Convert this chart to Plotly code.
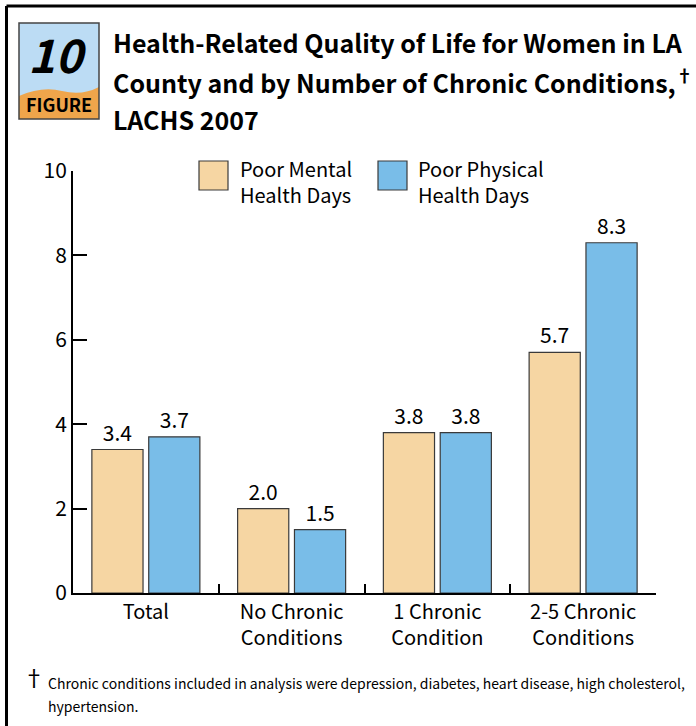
import plotly.graph_objects as go

# data
categories = ["Total", "No Chronic<br>Conditions", "1 Chronic<br>Condition", "2-5 Chronic<br>Conditions"]
series_names = ["Poor Mental<br>Health Days", "Poor Physical<br>Health Days"]
mental_days = [3.4, 2.0, 3.8, 5.7]
physical_days = [3.7, 1.5, 3.8, 8.3]
y_ticks = [0, 2, 4, 6, 8, 10]

title_lines = [
    "Health-Related Quality of Life for Women in LA",
    "County and by Number of Chronic Conditions,<sup>†</sup>",
    "LACHS 2007",
]
footnote_lines = [
    "Chronic conditions included in analysis were depression, diabetes, heart disease, high cholesterol,",
    "hypertension.",
]

W, H = 696, 726
FONT = "Noto Sans CJK JP, Roboto, sans-serif"
colors = ["#F6D6A3", "#79BDE8"]


def px(x):
    return x / W


def py(y):
    return 1 - y / H


def note(text, x, y, size, xanchor="left", yanchor="middle", **kw):
    return dict(text=text, x=px(x), y=py(y), xref="paper", yref="paper",
                xanchor=xanchor, yanchor=yanchor, align="left", showarrow=False,
                font=dict(size=size, family=FONT, color="black"), **kw)


fig = go.Figure()
for name, vals, col in zip(series_names, [mental_days, physical_days], colors):
    fig.add_trace(
        go.Bar(
            x=categories,
            y=vals,
            name=name,
            marker=dict(color=col, line=dict(color="#3a3a3a", width=1.2)),
            text=[f"{v:.1f}" for v in vals],
            textposition="outside",
            textfont=dict(size=21, color="black", family=FONT),
            cliponaxis=False,
            showlegend=False,
            hoverinfo="skip",
        )
    )

shapes = [
    # outer frame (top and left)
    dict(type="line", xref="paper", yref="paper", x0=px(6.5), x1=1, y0=py(6), y1=py(6),
         line=dict(color="black", width=3)),
    dict(type="line", xref="paper", yref="paper", x0=px(6.5), x1=px(6.5), y0=py(6), y1=0,
         line=dict(color="black", width=3)),
    # figure badge
    dict(type="rect", xref="paper", yref="paper", x0=px(19), x1=px(99), y0=py(119), y1=py(23),
         fillcolor="#BCDCF4", line=dict(width=0)),
    dict(type="path", xref="paper", yref="paper",
         path=f"M {px(19)},{py(96)} Q {px(42)},{py(86)} {px(62)},{py(91)} T {px(99)},{py(87)} "
              f"L {px(99)},{py(119)} L {px(19)},{py(119)} Z",
         fillcolor="#EFA54B", line=dict(width=0)),
    dict(type="rect", xref="paper", yref="paper", x0=px(19), x1=px(99), y0=py(119), y1=py(23),
         fillcolor="rgba(0,0,0,0)", line=dict(color="#444", width=1.5)),
]

annotations = [
    note("<b><i>10</i></b>", 58, 53, 46, xanchor="center"),
    note("<b>FIGURE</b>", 59, 104, 18, xanchor="center"),
    note("†", 34, 676, 22, xanchor="center"),
]
for line, y in zip(title_lines, [42, 81, 119]):
    annotations.append(note(f"<b>{line}</b>", 111, y, 25))
for line, y in zip(footnote_lines, [683, 706]):
    annotations.append(note(line, 46, y, 14))

# legend drawn by hand (large swatches)
legend_pos = [(199, 238), (378, 416)]
for (sx, tx), name, col in zip(legend_pos, series_names, colors):
    shapes.append(dict(type="rect", xref="paper", yref="paper", x0=px(sx), x1=px(sx + 29),
                       y0=py(190), y1=py(161), fillcolor=col, line=dict(color="#3a3a3a", width=1.2)))
    annotations.append(note(name, tx, 181, 20))

fig.update_layout(
    width=W,
    height=H,
    margin=dict(l=0, r=0, t=0, b=0),
    paper_bgcolor="white",
    plot_bgcolor="white",
    barmode="group",
    bargap=0.22,
    bargroupgap=0.1,
    font=dict(family=FONT, size=20, color="black"),
    xaxis=dict(
        domain=[px(73), px(656)],
        showline=True,
        linecolor="black",
        linewidth=2,
        ticks="inside",
        ticklen=9,
        tickwidth=2,
        tickcolor="black",
        tickson="boundaries",
        tickfont=dict(size=20, family=FONT),
        automargin=False,
        fixedrange=True,
    ),
    yaxis=dict(
        domain=[py(593), py(171)],
        range=[0, 10],
        tickvals=y_ticks,
        showline=True,
        linecolor="black",
        linewidth=2,
        ticks="inside",
        ticklen=14,
        tickwidth=2,
        tickcolor="black",
        showgrid=False,
        zeroline=False,
        tickfont=dict(size=21, family=FONT),
        automargin=False,
        fixedrange=True,
    ),
    shapes=shapes,
    annotations=annotations,
)

# drop the default page margin so the figure sits at the window's corner
fig.write_html(
    "out.html",
    config={"displayModeBar": False},
    post_script="document.body.style.margin = '0';",
)
